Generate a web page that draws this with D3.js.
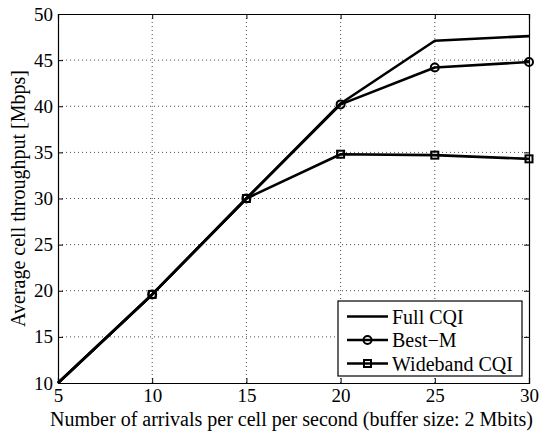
<!DOCTYPE html>
<html>
<head>
<meta charset="utf-8">
<script src="https://cdn.jsdelivr.net/npm/d3@7"></script>
<style>
  body { margin: 0; background: #fff; }
  svg text { font-family: "Liberation Serif", "DejaVu Serif", "Times New Roman", Times, serif; fill: #000; }
</style>
</head>
<body>
<svg id="chart" width="539" height="431"></svg>
<script>
// chart values
const arrivals = [5, 10, 15, 20, 25, 30];
const fullCqi = [10, 19.6, 30, 40.3, 47.1, 47.6];
const bestM = [10, 19.6, 30, 40.2, 44.2, 44.8];
const widebandCqi = [10, 19.6, 30, 34.8, 34.7, 34.3];
const xTicks = [5, 10, 15, 20, 25, 30];
const yTicks = [10, 15, 20, 25, 30, 35, 40, 45, 50];
const seriesNames = ["Full CQI", "Best\u2212M", "Wideband CQI"];

const serif = "'Liberation Serif', 'DejaVu Serif', serif";
const margin = {top: 14, right: 10, bottom: 48, left: 58};
const width = 539 - margin.left - margin.right;
const height = 431 - margin.top - margin.bottom;

const svg = d3.select("#chart");
const chart = svg.append("g").attr("transform", "translate(" + margin.left + "," + margin.top + ")");

const xScale = d3.scaleLinear().domain([5, 30]).range([0, width]);
const yScale = d3.scaleLinear().domain([10, 50]).range([height, 0]);

// grid
chart.append("g").selectAll("line").data(xTicks.slice(1, -1)).enter().append("line")
  .attr("x1", d => xScale(d)).attr("x2", d => xScale(d))
  .attr("y1", 0).attr("y2", height)
  .attr("stroke", "#000").attr("stroke-width", 0.7).attr("stroke-dasharray", "1,3");
chart.append("g").selectAll("line").data(yTicks.slice(1, -1)).enter().append("line")
  .attr("y1", d => yScale(d)).attr("y2", d => yScale(d))
  .attr("x1", 0).attr("x2", width)
  .attr("stroke", "#000").attr("stroke-width", 0.7).attr("stroke-dasharray", "1,3");

// axes, ticks point inward
const xAxis = chart.append("g").attr("transform", "translate(0," + height + ")")
  .call(d3.axisBottom(xScale).tickValues(xTicks).tickSize(-5).tickPadding(7).tickFormat(d3.format("d")));
const xAxisTop = chart.append("g")
  .call(d3.axisTop(xScale).tickValues(xTicks).tickSize(-5).tickFormat(""));
const yAxis = chart.append("g")
  .call(d3.axisLeft(yScale).tickValues(yTicks).tickSize(-5).tickPadding(5).tickFormat(d3.format("d")));
const yAxisRight = chart.append("g").attr("transform", "translate(" + width + ",0)")
  .call(d3.axisRight(yScale).tickValues(yTicks).tickSize(-5).tickFormat(""));

[xAxis, xAxisTop, yAxis, yAxisRight].forEach(a => {
  a.attr("font-family", serif).attr("font-size", 19);
  a.select(".domain").attr("stroke", "#000").attr("stroke-width", 1.2);
  a.selectAll(".tick line").attr("stroke", "#000").attr("stroke-width", 1);
});
xAxis.selectAll("text").attr("dy", "0.63em");

// axis titles
chart.append("text")
  .attr("x", width / 2 - 2).attr("y", height + 43)
  .attr("text-anchor", "middle").attr("font-family", serif).attr("font-size", 20)
  .text("Number of arrivals per cell per second (buffer size: 2 Mbits)");
chart.append("text")
  .attr("transform", "translate(" + (-33) + "," + (height / 2) + ") rotate(-90)")
  .attr("text-anchor", "middle").attr("font-family", serif).attr("font-size", 20)
  .text("Average cell throughput [Mbps]");

// lines
const line = d3.line().x(d => xScale(d.x)).y(d => yScale(d.y));
const toPts = vals => arrivals.map((x, i) => ({x: x, y: vals[i]}));

const series = [
  {name: seriesNames[0], pts: toPts(fullCqi), marker: "none"},
  {name: seriesNames[1], pts: toPts(bestM), marker: "circle"},
  {name: seriesNames[2], pts: toPts(widebandCqi), marker: "square"}
];

function drawMarker(g, type, cx, cy) {
  if (type === "circle") {
    g.append("circle").attr("cx", cx).attr("cy", cy).attr("r", 4)
      .attr("fill", "none").attr("stroke", "#000").attr("stroke-width", 2);
  } else if (type === "square") {
    g.append("rect").attr("x", cx - 3.5).attr("y", cy - 3.5).attr("width", 7).attr("height", 7)
      .attr("fill", "none").attr("stroke", "#000").attr("stroke-width", 2);
  }
}

series.slice().reverse().forEach(s => {
  chart.append("path").datum(s.pts).attr("d", line)
    .attr("fill", "none").attr("stroke", "#000").attr("stroke-width", 2.6)
    .attr("stroke-linejoin", "round");
  const mg = chart.append("g");
  s.pts.filter(p => p.x > 5).forEach(p => drawMarker(mg, s.marker, xScale(p.x), yScale(p.y)));
});

// legend
const legend = chart.append("g").attr("transform", "translate(" + (338 - margin.left) + "," + (301 - margin.top) + ")");
legend.append("rect").attr("width", 184).attr("height", 75)
  .attr("fill", "#fff").attr("stroke", "#000").attr("stroke-width", 1.2);
series.forEach((s, i) => {
  const y = 15.5 + i * 23.5;
  legend.append("line").attr("x1", 9).attr("x2", 50).attr("y1", y).attr("y2", y)
    .attr("stroke", "#000").attr("stroke-width", 2.6);
  drawMarker(legend, s.marker, 29.5, y);
  legend.append("text").attr("x", 54).attr("y", y).attr("dy", "0.35em")
    .attr("font-family", serif).attr("font-size", 20).text(s.name);
});
</script>
</body>
</html>
